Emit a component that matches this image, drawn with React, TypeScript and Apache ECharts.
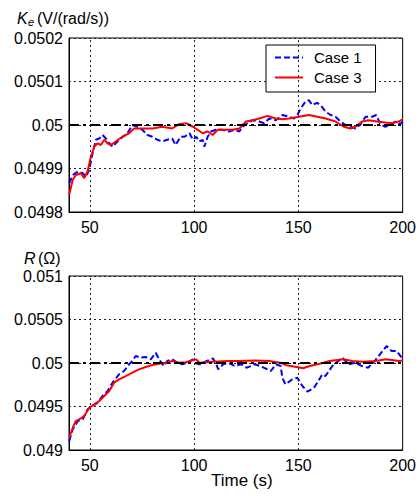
import React, { useEffect, useRef } from "react";
import * as echarts from "echarts";

// ---------- data ----------
const xTicks = [50, 100, 150, 200];
const vGrid = [50, 100, 150];
const refX = [40, 200];
const refKe = [0.05, 0.05];
const refR = [0.05, 0.05];

// Top plot: Ke, Case 1 (blue dashed)
const keCase1X = [40.1, 41.8, 44.2, 46.6, 48.1, 49.7, 51.3, 52.9, 54.5, 56.1, 57.7, 59.3, 60.9, 62.4, 64.8, 68, 70.4, 72.8, 75.2, 77.6, 80, 82.4, 84.7, 87.1, 89.5, 91.1, 93.5, 95.4, 97.8, 99.4, 101, 102.5, 104.1, 104.9, 106.5, 108.1, 110.4, 113.6, 116.8, 119.2, 121.7, 123.2, 125.6, 128, 131.2, 133.6, 136, 139.2, 142.3, 145.5, 147.9, 149.5, 151.1, 153.4, 155.1, 156.6, 159, 160.6, 163, 165.4, 167.8, 170.2, 172.6, 175, 177.4, 179.8, 182.2, 185.4, 187.3, 189.3, 191.7, 194.1, 196.5, 198.9, 200];
const keCase1Y = [0.049866, 0.049885, 0.049893, 0.049889, 0.049881, 0.049897, 0.049935, 0.049966, 0.049969, 0.049977, 0.049969, 0.049958, 0.04995, 0.049958, 0.049969, 0.049981, 0.05, 0.049996, 0.049989, 0.049977, 0.049973, 0.049966, 0.049962, 0.049966, 0.049969, 0.049954, 0.049973, 0.049973, 0.049981, 0.049966, 0.049973, 0.049962, 0.049966, 0.04995, 0.049973, 0.049985, 0.049989, 0.049989, 0.049985, 0.049989, 0.049985, 0.049996, 0.050004, 0.050011, 0.050008, 0.050004, 0.050015, 0.050011, 0.050023, 0.050019, 0.050015, 0.050023, 0.050038, 0.050054, 0.050057, 0.050046, 0.050051, 0.050046, 0.050031, 0.050023, 0.050019, 0.050008, 0.05, 0.049996, 0.049992, 0.050002, 0.050019, 0.050019, 0.050023, 0.050002, 0.049996, 0.050002, 0.050008, 0.050002, 0.050008];

// Top plot: Ke, Case 3 (red solid)
const keCase3X = [40.1, 41.8, 43.3, 45.7, 47.3, 48.9, 50.5, 52.1, 53.7, 55.3, 56.9, 58.5, 60.1, 62.4, 65.6, 68.8, 71.2, 75.2, 80, 84.7, 89.5, 92.7, 96.2, 99.4, 101.7, 104.1, 106.5, 108.9, 111.3, 114.5, 118.5, 121.7, 124.9, 128, 131.2, 135.2, 139.2, 142.3, 145.5, 150.3, 155.1, 159.1, 163.1, 167.8, 171.8, 175, 177.4, 180.5, 183.7, 187.7, 191.7, 194.9, 198.1, 200];
const keCase3Y = [0.04984, 0.049874, 0.049885, 0.049889, 0.049878, 0.049893, 0.049927, 0.04995, 0.049958, 0.049954, 0.049966, 0.049958, 0.049954, 0.049962, 0.049973, 0.049981, 0.049992, 0.049992, 0.049992, 0.049996, 0.049992, 0.050002, 0.050004, 0.049996, 0.049989, 0.049981, 0.049985, 0.049977, 0.049989, 0.049989, 0.049989, 0.049992, 0.050008, 0.050011, 0.050015, 0.050021, 0.050015, 0.050013, 0.050015, 0.050019, 0.050023, 0.050019, 0.050015, 0.050008, 0.049996, 0.049992, 0.049996, 0.050008, 0.050011, 0.050008, 0.050006, 0.050004, 0.050008, 0.050013];

// Bottom plot: R, Case 1 (blue dashed)
const rCase1X = [40.1, 41.8, 44.2, 46.6, 48.9, 51.3, 53.7, 56.1, 58.5, 60.9, 64, 66.4, 68.8, 70.4, 72, 74.4, 76.8, 79.2, 81.6, 83.2, 85.5, 87.1, 89.5, 91.9, 94.3, 97, 99.4, 101, 102.6, 105.8, 109, 110.6, 111.6, 113.9, 116.3, 119.5, 122.7, 125.1, 127.5, 129.1, 131.5, 136.8, 139.2, 141.5, 142.3, 143.8, 147.1, 149.5, 151.9, 154.3, 157.5, 159.1, 161.5, 163, 166.3, 171.1, 174.2, 177.1, 180.3, 183.4, 186.6, 189.1, 192.3, 194.7, 197.1, 199.6];
const rCase1Y = [0.049103, 0.049238, 0.049333, 0.049353, 0.049467, 0.049506, 0.049544, 0.049621, 0.049678, 0.049774, 0.04987, 0.049908, 0.049985, 0.050023, 0.05008, 0.050061, 0.050069, 0.050042, 0.050118, 0.050042, 0.049966, 0.050023, 0.050042, 0.050004, 0.049985, 0.05001, 0.050042, 0.049995, 0.049985, 0.05002, 0.050054, 0.049985, 0.049927, 0.049985, 0.050004, 0.049966, 0.049985, 0.049946, 0.049966, 0.049985, 0.049966, 0.049908, 0.049985, 0.049966, 0.04983, 0.049755, 0.049812, 0.04983, 0.049736, 0.04967, 0.049716, 0.049774, 0.04987, 0.04985, 0.049966, 0.050061, 0.049985, 0.050004, 0.049966, 0.049946, 0.050023, 0.0501, 0.050195, 0.050138, 0.050138, 0.050061];

// Bottom plot: R, Case 3 (red solid)
const rCase3X = [40.1, 41.8, 43.3, 45.7, 47.3, 49.7, 52.1, 54.5, 56.9, 59.3, 61.6, 64, 67.2, 70.4, 73.6, 76.8, 80, 83.2, 86.3, 89.5, 92.7, 96, 100.9, 102.6, 109, 116.3, 122, 129, 136, 141.2, 144.3, 149.1, 152.3, 155.4, 160.2, 165, 171.3, 176, 180.9, 187.2, 192, 198.3, 200];
const rCase3Y = [0.049141, 0.049256, 0.049333, 0.049364, 0.049391, 0.049486, 0.049525, 0.049563, 0.049621, 0.049678, 0.049774, 0.049812, 0.04985, 0.049889, 0.049927, 0.049954, 0.049977, 0.049992, 0.050004, 0.050023, 0.050004, 0.050008, 0.050042, 0.050004, 0.050015, 0.050023, 0.050023, 0.05003, 0.050023, 0.050004, 0.049973, 0.049954, 0.049939, 0.049966, 0.049992, 0.050023, 0.050042, 0.050023, 0.050015, 0.050023, 0.050042, 0.050023, 0.05003];

const zip = (xs: number[], ys: number[]) => xs.map((x, i) => [x, ys[i]]);

const FONT = "Liberation Sans, Arial, sans-serif";

export default function App() {
  const ref = useRef<HTMLDivElement>(null);

  useEffect(() => {
    if (!ref.current) return;
    const chart = echarts.init(ref.current, null, { renderer: "svg" });

    const fmtY = (v: number) => String(parseFloat(v.toFixed(4)));

    const xAxisBase = (gridIndex: number) => ({
      type: "value",
      gridIndex,
      min: 40,
      max: 200,
      axisLine: { show: true, onZero: false, lineStyle: { color: "#000", width: 1 } },
      axisTick: { show: false },
      axisLabel: {
        customValues: xTicks,
        color: "#000",
        fontSize: 16,
        fontFamily: FONT,
        margin: 7,
      },
      splitLine: { show: false },
    });

    const yAxisBase = (gridIndex: number, min: number, max: number, interval: number) => ({
      type: "value",
      gridIndex,
      min,
      max,
      interval,
      axisLine: { show: true, onZero: false, lineStyle: { color: "#000", width: 1 } },
      axisTick: { show: false },
      axisLabel: {
        color: "#000",
        fontSize: 16,
        fontFamily: FONT,
        margin: 6,
        formatter: fmtY,
      },
      splitLine: { show: true, lineStyle: { color: "#222", type: [2, 3], width: 1 } },
    });

    const gridLineSeries = (idx: number) => ({
      name: "vgrid" + idx,
      type: "line",
      xAxisIndex: idx,
      yAxisIndex: idx,
      data: [],
      silent: true,
      z: 1,
      markLine: {
        silent: true,
        symbol: "none",
        label: { show: false },
        lineStyle: { color: "#222", type: [2, 3], width: 1 },
        data: vGrid.map((v) => ({ xAxis: v })),
      },
    });

    const caseSeries = (name: string, idx: number, data: number[][], color: string, dashed: boolean) => ({
      name,
      type: "line",
      xAxisIndex: idx,
      yAxisIndex: idx,
      data,
      showSymbol: false,
      symbol: "none",
      z: 3,
      lineStyle: { color, width: 2, type: dashed ? [6, 3] : "solid" },
      itemStyle: { color },
    });

    const refSeries = (idx: number, ys: number[]) => ({
      name: "ref" + idx,
      type: "line",
      xAxisIndex: idx,
      yAxisIndex: idx,
      data: zip(refX, ys),
      showSymbol: false,
      symbol: "none",
      z: 4,
      lineStyle: { color: "#000", width: 2, type: [10, 4, 3, 4] },
    });

    chart.setOption({
      animation: false,
      backgroundColor: "#fff",
      grid: [
        { left: 69, top: 38, width: 335, height: 174, show: true, borderColor: "#000", borderWidth: 1, backgroundColor: "#fff" },
        { left: 69, top: 276, width: 335, height: 174, show: true, borderColor: "#000", borderWidth: 1, backgroundColor: "#fff" },
      ],
      xAxis: [xAxisBase(0), xAxisBase(1)],
      yAxis: [yAxisBase(0, 0.0498, 0.0502, 0.0001), yAxisBase(1, 0.049, 0.051, 0.0005)],
      legend: {
        data: ["Case 1", "Case 3"],
        orient: "vertical",
        left: 266,
        top: 45,
        itemWidth: 28,
        itemHeight: 14,
        itemGap: 5,
        padding: [5, 14, 7, 8],
        backgroundColor: "#fff",
        borderColor: "#000",
        borderWidth: 1,
        borderRadius: 0,
        itemStyle: { opacity: 0 },
        textStyle: { color: "#000", fontSize: 15, fontFamily: FONT, padding: [0, 0, 0, 6] },
      },
      graphic: [
        { type: "text", left: 17, top: 10, style: { text: "K", fontSize: 16, fontStyle: "italic", fontFamily: FONT, fill: "#000" } },
        { type: "text", left: 28, top: 16, style: { text: "e", fontSize: 11, lineHeight: 12, fontStyle: "italic", fontFamily: FONT, fill: "#000" } },
        { type: "text", left: 37, top: 10, style: { text: "(V/(rad/s))", fontSize: 16, fontFamily: FONT, fill: "#000" } },
        { type: "text", left: 24, top: 250, style: { text: "R", fontSize: 16, fontStyle: "italic", fontFamily: FONT, fill: "#000" } },
        { type: "text", left: 38, top: 250, style: { text: "(Ω)", fontSize: 16, fontFamily: FONT, fill: "#000" } },
        { type: "text", left: 211, top: 472, style: { text: "Time (s)", fontSize: 17, fontFamily: FONT, fill: "#000" } },
      ],
      series: [
        gridLineSeries(0),
        gridLineSeries(1),
        caseSeries("Case 1", 0, zip(keCase1X, keCase1Y), "#0000ff", true),
        caseSeries("Case 3", 0, zip(keCase3X, keCase3Y), "#ff0000", false),
        caseSeries("Case 1", 1, zip(rCase1X, rCase1Y), "#0000ff", true),
        caseSeries("Case 3", 1, zip(rCase3X, rCase3Y), "#ff0000", false),
        refSeries(0, refKe),
        refSeries(1, refR),
      ],
    });

    return () => chart.dispose();
  }, []);

  return (
    <div
      ref={ref}
      style={{ position: "fixed", left: 0, top: 0, width: 419, height: 496, background: "#fff" }}
    />
  );
}
